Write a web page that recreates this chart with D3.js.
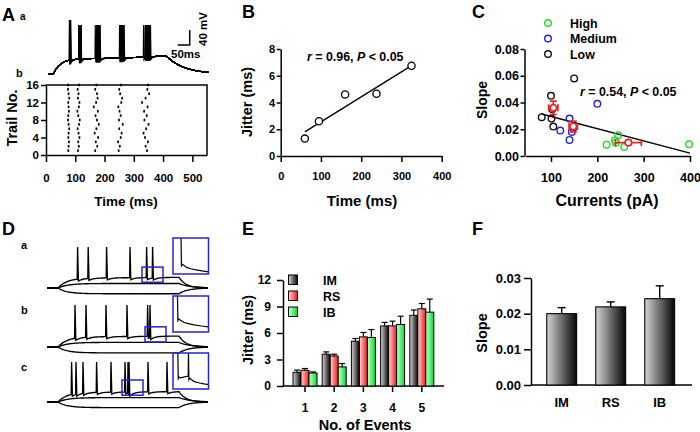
<!DOCTYPE html>
<html><head><meta charset="utf-8">
<script src="https://cdn.jsdelivr.net/npm/d3@7"></script>
<style>
body{margin:0;background:#fff;}
svg{display:block;font-family:"Liberation Sans",Arial,sans-serif;font-weight:bold;}
</style></head><body>
<svg id="fig" width="700" height="432"></svg>
<script>
// ================= DATA =================
// Panel A – raster (spike time in ms for each event, trials 1..16)
const rasterTrials = d3.range(1, 17);
const rasterTimes = [
  [76,77,78,76,77,79,77,75,76,78,77,76,79,77,75,76],
  [109,112,110,114,111,108,113,115,110,107,112,114,109,111,108,113],
  [168,175,170,178,166,172,180,174,169,177,163,171,176,174,168,172],
  [248,252,246,255,258,250,262,249,255,251,247,257,260,253,250,256],
  [345,340,348,338,333,342,350,336,344,335,347,328,340,352,346,349]
];
const rasterXTicks = [0,100,200,300,400,500];
const rasterYTicks = [0,4,8,12,16];

// Panel B – jitter vs time
const jitterTime = [60,95,160,238,325];
const jitterVal  = [1.3,2.6,4.6,4.65,6.75];
const jitterFitX = [60,322];
const jitterFitY = [1.8,6.7];
const bXTicks = [0,100,200,300,400];
const bYTicks = [0,2,4,6,8];

// Panel C – slope vs currents
const cGroups = ["High","Medium","Low"];
const highX = [220,245,238,240,258,398];
const highY = [0.0085,0.0155,0.0115,0.0100,0.0068,0.0088];
const medX  = [200,140,120,145,140,148];
const medY  = [0.039,0.028,0.019,0.018,0.012,0.021];
const lowX  = [80,100,103,101,105,150];
const lowY  = [0.029,0.045,0.035,0.028,0.022,0.058];
const meanX = [105,148,267];
const meanY = [0.036,0.022,0.010];
const meanXErr = [10,9,28];
const meanYErr = [0.005,0.004,0.0015];
const slopeFitX = [80,400];
const slopeFitY = [0.0314,0.0022];
const cXTicks = [100,200,300,400];
const cYTicks = [0,0.02,0.04,0.06,0.08];

// Panel D – spike times (ms) of example traces
const dRows = ["a","b","c"];
const dSpikes = [
  [153,206,298,415,498,528],
  [140,195,295,400,503,515],
  [123,145,180,248,320,390,405,410,505,600]
];

// Panel E – jitter per event
const eEvents = ["1","2","3","4","5"];
const eTypes = ["IM","RS","IB"];
const imMean = [1.55,3.60,5.07,6.80,8.00];
const imErr  = [0.25,0.26,0.31,0.40,0.60];
const rsMean = [1.78,3.40,5.56,6.80,8.74];
const rsErr  = [0.20,0.20,0.50,0.54,0.60];
const ibMean = [1.47,2.16,5.49,6.97,8.36];
const ibErr  = [0.12,0.38,0.90,0.93,1.48];
const eYTicks = [0,3,6,9,12];

// Panel F – slope per type
const fTypes = ["IM","RS","IB"];
const fMean = [0.0200,0.0219,0.0242];
const fErr  = [0.0017,0.0014,0.0036];
const fYTicks = [0,0.01,0.02,0.03];

// ================= DRAWING =================
const FONT = '"Liberation Sans", Arial, sans-serif';
const svg = d3.select("#fig");
svg.append("rect").attr("width",700).attr("height",432).attr("fill","#fff");

const defs = svg.append("defs");
function grad(id, c1, c2){
  const g = defs.append("linearGradient").attr("id",id).attr("x1","0").attr("x2","1").attr("y1","0").attr("y2","0");
  g.append("stop").attr("offset","0%").attr("stop-color",c1);
  g.append("stop").attr("offset","100%").attr("stop-color",c2);
}
grad("gIM","#d4d4d4","#050505");
grad("gRS","#ffd4d4","#f01818");
grad("gIB","#c8ffc8","#00dd33");
const typeFill = {IM:"url(#gIM)",RS:"url(#gRS)",IB:"url(#gIB)"};

function styleAxis(g, fs){
  g.attr("font-family",FONT).attr("font-size",fs).attr("font-weight","bold");
  g.selectAll("path.domain").attr("stroke","#000").attr("stroke-width",1.5);
  g.selectAll(".tick line").attr("stroke","#000").attr("stroke-width",1.5);
  g.selectAll(".tick text").attr("fill","#000");
}
function text(x,y,s,fs,anchor){
  return svg.append("text").attr("x",x).attr("y",y).attr("font-size",fs)
    .attr("text-anchor",anchor||"start").attr("fill","#000").text(s);
}
function vtext(x,y,s,fs){
  return svg.append("text").attr("transform",`translate(${x},${y}) rotate(-90)`)
    .attr("font-size",fs).attr("text-anchor","middle").attr("fill","#000").text(s);
}
function statText(x,y,r,p,fs){
  const t = svg.append("text").attr("x",x).attr("y",y).attr("font-size",fs).attr("fill","#000");
  t.append("tspan").attr("font-style","italic").text("r");
  t.append("tspan").text(" = "+r+", ");
  t.append("tspan").attr("font-style","italic").text("P");
  t.append("tspan").text(" < "+p);
}

// generic trace builder: returns [t, v]
function buildTrace(spikes, env, peakFn, riseW, fallW, ahpAmp, ahpTau, tEnd, step){
  const sp = spikes.slice().sort((a,b)=>a-b);
  const ts = [];
  for(let t=0;t<=tEnd;t+=step){ if(!sp.some(s=>t>s-riseW-0.01 && t<s+fallW+0.01)) ts.push(t); }
  sp.forEach(s=>ts.push(s-riseW, s, s+fallW));
  ts.sort((a,b)=>a-b);
  return ts.map(t=>{
    const i = sp.indexOf(t);
    if(i>=0) return [t, peakFn(i)];
    let v = env(t);
    sp.forEach(s=>{ if(t>=s+fallW-1e-6) v -= ahpAmp*Math.exp(-(t-s-fallW)/ahpTau); });
    return [t, v];
  });
}

// ---------- Panel A ----------
const xA = d3.scaleLinear().domain([0,550]).range([46,207]);
const yA = d3.scaleLinear().domain([0,16]).range([155,85]);
// overlaid voltage traces
const yTr = d3.scaleLinear().domain([0,1]).range([74,20]);
const aOn = 20, aOff = 405;
function envA(t){
  if(t<aOn) return 0;
  const tt = Math.min(t,aOff);
  let v = 0.285*(1-Math.exp(-(tt-aOn)/24)) + 0.055*Math.pow((tt-aOn)/(aOff-aOn),3);
  if(t>aOff) v = v*Math.exp(-(t-aOff)/60);
  return v;
}
const lineA = d3.line().x(d=>xA(d[0])+1.5).y(d=>yTr(d[1]));
rasterTrials.forEach((tr,j)=>{
  const sp = rasterTimes.map(ev=>ev[j]);
  const pts = buildTrace(sp, envA, i=> i===0?1:0.905, 0.8, 1.6, 0.05, 6, 550, 1);
  svg.append("path").attr("d",lineA(pts.filter(p=>p[0]>=2))).attr("fill","none")
    .attr("stroke","#000").attr("stroke-width",1.1);
});
// scale bar
svg.append("path").attr("d",`M${xA(491)},${30}V45H${xA(450)}`).attr("fill","none").attr("stroke","#000").attr("stroke-width",1.5);
vtext(207,29,"40 mV",11.5);
text(171,58,"50ms",11.5);

// raster box
svg.append("path").attr("d",`M${xA(0)},${yA(16)}H${xA(550)}V${yA(0)}`).attr("fill","none").attr("stroke","#000").attr("stroke-width",1.5);
const gAx = svg.append("g").attr("transform",`translate(0,${yA(0)})`)
  .call(d3.axisBottom(xA).tickValues(rasterXTicks).tickSize(7).tickPadding(12).tickSizeOuter(0));
styleAxis(gAx,11.5);
const gAy = svg.append("g").attr("transform",`translate(${xA(0)},0)`)
  .call(d3.axisLeft(yA).tickValues(rasterYTicks).tickSize(5).tickPadding(2).tickSizeOuter(0));
styleAxis(gAy,11.5);
rasterTimes.forEach(ev=>{
  svg.append("g").selectAll("rect").data(ev).join("rect")
    .attr("x",d=>xA(d)-0.8).attr("y",(d,i)=>yA(rasterTrials[i])-1.3)
    .attr("width",1.7).attr("height",2.6).attr("fill","#000");
});
vtext(17,118,"Trail No.",14.5);
text(126,206,"Time (ms)",13.5,"middle");
text(2,21,"A",18);
text(20,20,"a",10);
text(16,77,"b",11);

// ---------- Panel B ----------
const xB = d3.scaleLinear().domain([0,400]).range([280.7,441.7]);
const yB = d3.scaleLinear().domain([0,8]).range([156,49]);
const gBx = svg.append("g").attr("transform",`translate(0,${yB(0)})`)
  .call(d3.axisBottom(xB).tickValues(bXTicks).tickSize(6).tickPadding(10.5).tickSizeOuter(0));
styleAxis(gBx,11);
const gBy = svg.append("g").attr("transform",`translate(${xB(0)},0)`)
  .call(d3.axisLeft(yB).tickValues(bYTicks).tickSize(4).tickPadding(1.5).tickSizeOuter(0));
styleAxis(gBy,11);
svg.append("line").attr("x1",xB(jitterFitX[0])).attr("y1",yB(jitterFitY[0]))
  .attr("x2",xB(jitterFitX[1])).attr("y2",yB(jitterFitY[1])).attr("stroke","#000").attr("stroke-width",1.3);
svg.append("g").selectAll("circle").data(jitterTime).join("circle")
  .attr("cx",d=>xB(d)).attr("cy",(d,i)=>yB(jitterVal[i])).attr("r",3.6)
  .attr("fill","#fff").attr("stroke","#000").attr("stroke-width",1.3);
statText(307,61,"0.96","0.05",12.4);
vtext(252,102,"Jitter (ms)",14.5);
text(362,206,"Time (ms)",15,"middle");
text(242,18,"B",18);

// ---------- Panel C ----------
const xC = d3.scaleLinear().domain([45,400]).range([525.5,690]);
const yC = d3.scaleLinear().domain([0,0.08]).range([156,49]);
const gCx = svg.append("g").attr("transform",`translate(0,${yC(0)})`)
  .call(d3.axisBottom(xC).tickValues(cXTicks).tickSize(6).tickPadding(11).tickSizeOuter(0));
styleAxis(gCx,12.5);
const gCy = svg.append("g").attr("transform",`translate(${xC(45)-1},0)`)
  .call(d3.axisLeft(yC).tickValues(cYTicks).tickFormat(d3.format(".2f")).tickSize(4).tickPadding(1.5).tickSizeOuter(0));
styleAxis(gCy,12.5);
const cSeries = [
  {name:"High", color:"#22dd22", xs:highX, ys:highY},
  {name:"Medium", color:"#2222dd", xs:medX, ys:medY},
  {name:"Low", color:"#111", xs:lowX, ys:lowY}
];
svg.append("line").attr("x1",xC(slopeFitX[0])).attr("y1",yC(slopeFitY[0]))
  .attr("x2",xC(slopeFitX[1])).attr("y2",yC(slopeFitY[1])).attr("stroke","#000").attr("stroke-width",1.3);
cSeries.forEach(s=>{
  svg.append("g").selectAll("circle").data(s.xs).join("circle")
    .attr("cx",d=>xC(d)).attr("cy",(d,i)=>yC(s.ys[i])).attr("r",3.3)
    .attr("fill","none").attr("stroke",s.color).attr("stroke-width",1.4);
});
// mean +- error (red)
const red = "#ee2222";
meanX.forEach((mx,i)=>{
  const g = svg.append("g").attr("stroke",red).attr("stroke-width",1.7).attr("fill","none");
  const cx = xC(mx), cy = yC(meanY[i]);
  const x0 = xC(mx-meanXErr[i]), x1 = xC(mx+meanXErr[i]);
  const y0 = yC(meanY[i]-meanYErr[i]), y1 = yC(meanY[i]+meanYErr[i]);
  g.append("line").attr("x1",x0).attr("x2",x1).attr("y1",cy).attr("y2",cy);
  g.append("line").attr("x1",x0).attr("x2",x0).attr("y1",cy-3.5).attr("y2",cy+3.5);
  g.append("line").attr("x1",x1).attr("x2",x1).attr("y1",cy-3.5).attr("y2",cy+3.5);
  g.append("line").attr("x1",cx).attr("x2",cx).attr("y1",y0).attr("y2",y1);
  g.append("line").attr("x1",cx-3.5).attr("x2",cx+3.5).attr("y1",y0).attr("y2",y0);
  g.append("line").attr("x1",cx-3.5).attr("x2",cx+3.5).attr("y1",y1).attr("y2",y1);
  g.append("circle").attr("cx",cx).attr("cy",cy).attr("r",3.3).attr("fill","#fff");
});
// legend
cSeries.forEach((s,i)=>{
  svg.append("circle").attr("cx",548).attr("cy",23+i*15.5).attr("r",3.3)
    .attr("fill","none").attr("stroke",s.color).attr("stroke-width",1.4);
  text(570,27.5+i*15.5,s.name,12.4);
});
statText(580,96,"0.54","0.05",12.4);
vtext(487,100,"Slope",14);
text(607,206,"Currents (pA)",16,"middle");
text(472,18,"C",18);

// ---------- Panel D ----------
const xD = d3.scaleLinear().domain([0,805]).range([47,208]);
const dBase = [288,347,402];
const dPeak = [247,305,362];
const dOn = 55, dOff = 660;
function envSpk(t){
  if(t<dOn) return 0;
  const tt=Math.min(t,dOff);
  let v = 0.24*(1-Math.exp(-(tt-dOn)/45)) + 0.02*((tt-dOn)/(dOff-dOn));
  if(t>dOff) v = v*Math.exp(-(t-dOff)/35);
  return v;
}
function envSub(t){
  if(t<dOn) return 0;
  const tt=Math.min(t,dOff);
  let v = 0.11*(1-Math.exp(-(tt-dOn)/50));
  if(t>dOff) v = v*Math.exp(-(t-dOff)/55);
  return v;
}
function envHyp(t){
  if(t<dOn) return 0;
  const tt=Math.min(t,dOff);
  let v = -0.14*(1-Math.exp(-(tt-dOn)/45));
  if(t>dOff) v = v*Math.exp(-(t-dOff)/45);
  return v;
}
const dBoxes = [ // small boxes in trace time units and normalized v
  {t0:475,t1:580,v0:0.14,v1:0.51},
  {t0:490,t1:595,v0:0.12,v1:0.48},
  {t0:375,t1:480,v0:0.17,v1:0.55}
];
const dInsets = [ // inset spikes: positions (0..1) and post-spike trace level
  {sp:[0.23], bottom:[0.77], end:0.94},
  {sp:[0.13], bottom:[0.68], end:0.86},
  {sp:[0.14,0.44], bottom:[0.71,0.74], end:0.88}
];
dRows.forEach((r,k)=>{
  const yD = d3.scaleLinear().domain([0,1]).range([dBase[k],dPeak[k]]);
  const ln = d3.line().x(d=>xD(d[0])).y(d=>yD(d[1]));
  const sub = d3.range(0,806,5).map(t=>[t,envSub(t)]);
  const hyp = d3.range(0,806,5).map(t=>[t,envHyp(t)]);
  const spk = buildTrace(dSpikes[k], envSpk, ()=>1, 2, 4, 0.05, 20, 805, 5);
  [hyp,sub,spk].forEach(p=>svg.append("path").attr("d",ln(p)).attr("fill","none")
    .attr("stroke","#000").attr("stroke-width",1.35));
  const b = dBoxes[k];
  svg.append("rect").attr("x",xD(b.t0)).attr("y",yD(b.v1)).attr("width",xD(b.t1)-xD(b.t0))
    .attr("height",yD(b.v0)-yD(b.v1)).attr("fill","none").attr("stroke","#2424d0").attr("stroke-width",1.5);
  // inset
  const ix = d3.scaleLinear().domain([0,1]).range([173,208.5]);
  const iy = d3.scaleLinear().domain([0,1]).range([dPeak[k]-9,dPeak[k]+27]);
  const ins = dInsets[k];
  const pts = [];
  ins.sp.forEach((u,i)=>{
    if(i>0){ pts.push([u-0.012,ins.bottom[i]-0.1]); pts.push([u-0.004,0.0]); }
    else pts.push([u-0.004,0.0]);
    pts.push([u+0.008,ins.bottom[i]]);
    pts.push([u+0.03,ins.bottom[i]-0.04]);
    pts.push([u+0.06,ins.bottom[i]-0.02]);
  });
  const last = ins.sp[ins.sp.length-1];
  [0.15,0.3,0.5,0.75,1].forEach(f=>{
    const u = last+0.06+(1-last-0.06)*f;
    const lb = ins.bottom[ins.bottom.length-1]-0.02;
    pts.push([u, lb+(ins.end-lb)*Math.sqrt(f)]);
  });
  svg.append("path").attr("d",d3.line().x(d=>ix(d[0])).y(d=>iy(d[1]))(pts))
    .attr("fill","none").attr("stroke","#000").attr("stroke-width",1.2);
  svg.append("rect").attr("x",ix(0)).attr("y",iy(0)).attr("width",ix(1)-ix(0)).attr("height",iy(1)-iy(0))
    .attr("fill","none").attr("stroke","#2424d0").attr("stroke-width",1.5);
  text(21,[249,314,371][k],r,11);
});
text(2,235,"D",18);

// ---------- Panel E ----------
const xE = d3.scaleBand().domain(eEvents).range([290.4,436.4]);
const xEi = d3.scaleBand().domain(eTypes).range([2.6,26.6]);
const yE = d3.scaleLinear().domain([0,12]).range([386,280]);
const eData = {IM:[imMean,imErr],RS:[rsMean,rsErr],IB:[ibMean,ibErr]};
svg.append("line").attr("x1",283).attr("x2",444).attr("y1",yE(0)).attr("y2",yE(0)).attr("stroke","#000").attr("stroke-width",1.5);
const gEx = svg.append("g").attr("transform",`translate(0,${yE(0)})`)
  .call(d3.axisBottom(xE).tickSize(6).tickPadding(11.5).tickSizeOuter(0));
gEx.select("path.domain").remove();
styleAxis(gEx,12);
const gEy = svg.append("g").attr("transform",`translate(283,0)`)
  .call(d3.axisLeft(yE).tickValues(eYTicks).tickSize(6).tickPadding(6).tickSizeOuter(0));
styleAxis(gEy,12);
eTypes.forEach(tp=>{
  const [m,e] = eData[tp];
  const g = svg.append("g");
  eEvents.forEach((ev,i)=>{
    const x = xE(ev)+xEi(tp), w = xEi.bandwidth();
    g.append("line").attr("x1",x+w/2).attr("x2",x+w/2).attr("y1",yE(m[i])).attr("y2",yE(m[i]+e[i])).attr("stroke","#000").attr("stroke-width",1.2);
    g.append("line").attr("x1",x+w/2-3).attr("x2",x+w/2+3).attr("y1",yE(m[i]+e[i])).attr("y2",yE(m[i]+e[i])).attr("stroke","#000").attr("stroke-width",1.2);
    g.append("rect").attr("x",x).attr("y",yE(m[i])).attr("width",w).attr("height",yE(0)-yE(m[i]))
      .attr("fill",typeFill[tp]).attr("stroke","#000").attr("stroke-width",1);
  });
});
eTypes.forEach((tp,i)=>{
  svg.append("rect").attr("x",288.5).attr("y",275+i*16).attr("width",9).attr("height",9.5)
    .attr("fill",typeFill[tp]).attr("stroke","#000").attr("stroke-width",1);
  text(323,284.5+i*16,tp,12.5);
});
vtext(253,330,"Jitter (ms)",14.5);
text(365,430,"No. of Events",14.5,"middle");
text(242,235,"E",18);

// ---------- Panel F ----------
const xF = d3.scaleBand().domain(fTypes).range([537.2,684.2]).paddingInner(0.39).paddingOuter(0.195);
const yF = d3.scaleLinear().domain([0,0.03]).range([385,278]);
svg.append("line").attr("x1",531).attr("x2",692).attr("y1",yF(0)).attr("y2",yF(0)).attr("stroke","#000").attr("stroke-width",1.5);
const gFx = svg.append("g").attr("transform",`translate(0,${yF(0)})`)
  .call(d3.axisBottom(xF).tickSize(0).tickPadding(12.5).tickSizeOuter(0));
gFx.select("path.domain").remove();
styleAxis(gFx,13);
const gFy = svg.append("g").attr("transform",`translate(531,0)`)
  .call(d3.axisLeft(yF).tickValues(fYTicks).tickFormat(d3.format(".2f")).tickSize(7).tickPadding(3).tickSizeOuter(0));
styleAxis(gFy,13);
fTypes.forEach((tp,i)=>{
  const x = xF(tp), w = xF.bandwidth(), cx = x+w/2;
  svg.append("line").attr("x1",cx).attr("x2",cx).attr("y1",yF(fMean[i])).attr("y2",yF(fMean[i]+fErr[i])).attr("stroke","#000").attr("stroke-width",1.4);
  svg.append("line").attr("x1",cx-4).attr("x2",cx+4).attr("y1",yF(fMean[i]+fErr[i])).attr("y2",yF(fMean[i]+fErr[i])).attr("stroke","#000").attr("stroke-width",1.4);
  svg.append("rect").attr("x",x).attr("y",yF(fMean[i])).attr("width",w).attr("height",yF(0)-yF(fMean[i]))
    .attr("fill","url(#gIM)").attr("stroke","#000").attr("stroke-width",1.1);
});
vtext(487,333,"Slope",14.5);
text(472,235,"F",18);
</script>
</body></html>
